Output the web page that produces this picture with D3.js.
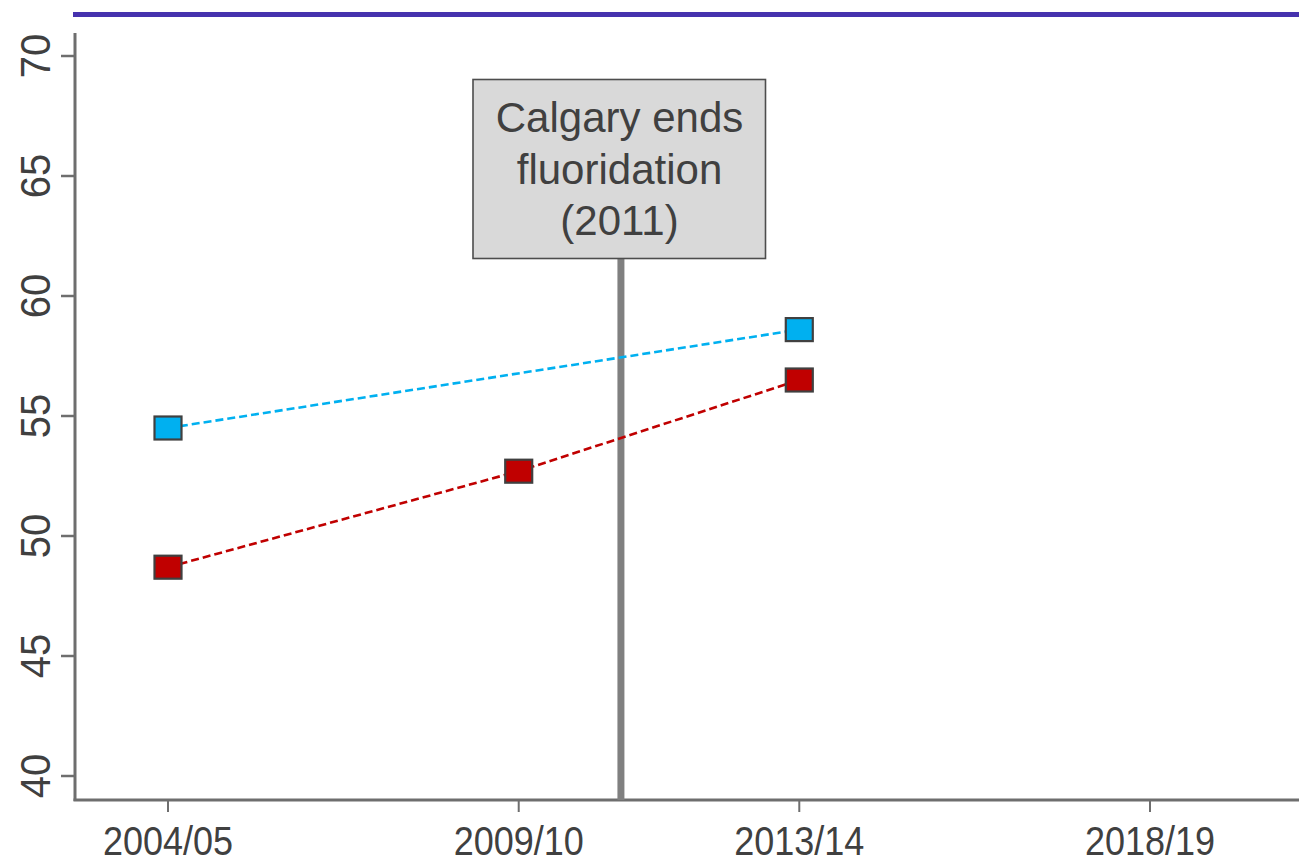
<!DOCTYPE html>
<html>
<head>
<meta charset="utf-8">
<script src="https://cdn.jsdelivr.net/npm/d3@7"></script>
<style>
  html, body { margin: 0; padding: 0; background: #fff; }
  svg { display: block; }
  text { font-family: "Liberation Sans", Arial, sans-serif; fill: #404040; }
</style>
</head>
<body>
<svg id="chart" width="1299" height="858"></svg>
<script>
// ---- Data ----
const periods = ["2004/05", "2009/10", "2013/14", "2018/19"];
const periodYears = [2004.5, 2009.5, 2013.5, 2018.5];
const yTicks = [40, 45, 50, 55, 60, 65, 70];
const calgaryPeriods = ["2004/05", "2009/10", "2013/14"];
const calgaryValues = [48.7, 52.7, 56.5];
const edmontonPeriods = ["2004/05", "2013/14"];
const edmontonValues = [54.5, 58.6];
const eventYear = 2011;
const eventLabel = ["Calgary ends", "fluoridation", "(2011)"];

(function () {
const svg = d3.select("#chart");

// scales
const x = d3.scaleLinear().domain([2004.5, 2018.5]).range([168, 1150]);
const y = d3.scaleLinear().domain([40, 70]).range([776, 56]);
const yearOf = p => periodYears[periods.indexOf(p)];

const plotLeft = 75, plotRight = 1299, plotBottom = 800, plotTop = 33;

// top rule
svg.append("line").attr("x1", 73).attr("x2", 1299).attr("y1", 14.5).attr("y2", 14.5)
  .attr("stroke", "#4632ae").attr("stroke-width", 5);

// y axis
svg.append("line").attr("x1", plotLeft).attr("x2", plotLeft).attr("y1", plotTop).attr("y2", plotBottom + 1)
  .attr("stroke", "#6e6e6e").attr("stroke-width", 3);
const yg = svg.append("g");
yg.selectAll("line.t").data(yTicks).join("line")
  .attr("x1", 61).attr("x2", plotLeft).attr("y1", d => y(d)).attr("y2", d => y(d))
  .attr("stroke", "#6e6e6e").attr("stroke-width", 2.5);
yg.selectAll("text").data(yTicks).join("text")
  .attr("transform", d => `translate(49.5,${y(d)}) rotate(-90) scale(1,1.08)`)
  .attr("text-anchor", "middle")
  .attr("font-size", 40)
  .text(d => d);

// x axis
svg.append("line").attr("x1", plotLeft - 1.5).attr("x2", plotRight).attr("y1", plotBottom).attr("y2", plotBottom)
  .attr("stroke", "#6e6e6e").attr("stroke-width", 3);
const xg = svg.append("g");
xg.selectAll("line.t").data(periods).join("line")
  .attr("x1", (d, i) => x(periodYears[i])).attr("x2", (d, i) => x(periodYears[i]))
  .attr("y1", plotBottom).attr("y2", 812)
  .attr("stroke", "#6e6e6e").attr("stroke-width", 2);
xg.selectAll("text").data(periods).join("text")
  .attr("transform", (d, i) => `translate(${x(periodYears[i])},854.5) scale(0.9,1)`)
  .attr("text-anchor", "middle")
  .attr("font-size", 40)
  .text(d => d);

// event line and box
const ex = x(eventYear) - 3;
svg.append("line").attr("x1", ex).attr("x2", ex).attr("y1", 258).attr("y2", plotBottom)
  .attr("stroke", "#808080").attr("stroke-width", 7);
svg.append("rect").attr("x", 473).attr("y", 79.5).attr("width", 292.5).attr("height", 179)
  .attr("fill", "#d9d9d9").attr("stroke", "#4d4d4d").attr("stroke-width", 1.6);
svg.append("g").selectAll("text").data(eventLabel).join("text")
  .attr("x", 619.5).attr("y", (d, i) => 132 + i * 51.5)
  .attr("text-anchor", "middle").attr("font-size", 42)
  .text(d => d);

// series
function drawSeries(ps, vs, color) {
  const pts = ps.map((p, i) => [x(yearOf(p)), y(vs[i])]);
  svg.append("path")
    .attr("d", d3.line()(pts))
    .attr("fill", "none").attr("stroke", color).attr("stroke-width", 2.6)
    .attr("stroke-dasharray", "8,4");
  svg.append("g").selectAll("rect").data(pts).join("rect")
    .attr("x", d => d[0] - 13.5).attr("y", d => d[1] - 11.5)
    .attr("width", 27).attr("height", 23)
    .attr("fill", color).attr("stroke", "#404040").attr("stroke-width", 2.2);
}
drawSeries(edmontonPeriods, edmontonValues, "#00b0f0");
drawSeries(calgaryPeriods, calgaryValues, "#c00000");
})();
</script>
</body>
</html>
